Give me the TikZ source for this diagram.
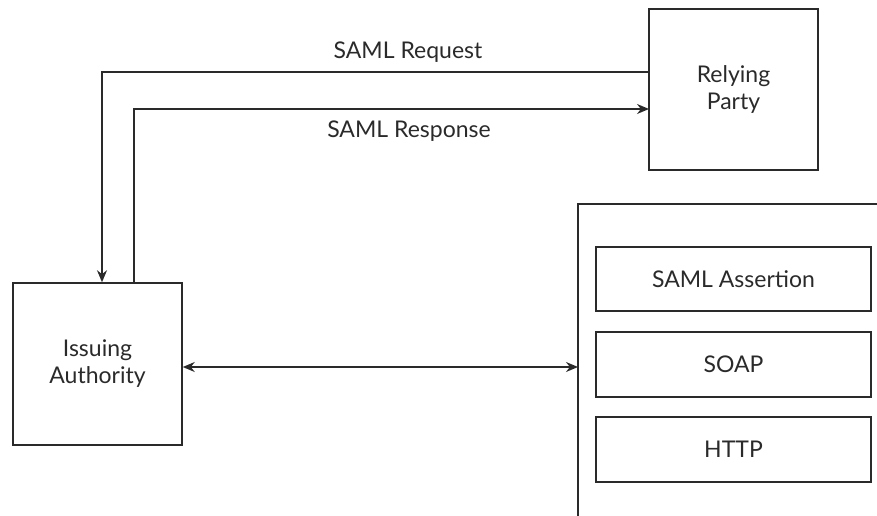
\documentclass[tikz,border=0pt]{standalone}
\usepackage{fontspec}
\setmainfont{Lato}
\usetikzlibrary{arrows.meta}
\definecolor{ln}{HTML}{2A2A2A}
\tikzset{
  box/.style={draw=ln, line width=1.5pt, rectangle, inner sep=0pt, align=center, font=\fontsize{23}{27}\selectfont, text=ln},
  lbl/.style={font=\fontsize{23}{27}\selectfont, text=ln, inner sep=0pt},
  arr/.style={draw=ln, line width=1.4pt, -{Stealth[length=12pt,width=10pt]}},
  darr/.style={draw=ln, line width=1.4pt, {Stealth[length=12pt,width=10pt]}-{Stealth[length=12pt,width=10pt]}},
  ln/.style={draw=ln, line width=1.5pt}
}
\begin{document}
\begin{tikzpicture}[x=1pt,y=-1pt]
\useasboundingbox (0,0) rectangle (877,516);
\node[box, minimum width=169pt, minimum height=161pt] (rp) at (733.5,89.5) {Relying\\Party};
\node[box, minimum width=169pt, minimum height=162pt] (ia) at (97.5,364) {Issuing\\Authority};
\coordinate (contTR) at (877,204);
\coordinate (contTL) at (578,204);
\coordinate (contBL) at (578,516);
\coordinate (contW) at (578,367);
\draw[ln] (contTR) -- (contTL) -- (contBL);
\node[box, minimum width=275pt, minimum height=64pt] (sa) at (733.5,279) {SAML Assertion};
\node[box, minimum width=275pt, minimum height=65pt] (soap) at (733.5,364.5) {SOAP};
\node[box, minimum width=275pt, minimum height=65pt] (http) at (733.5,449.5) {HTTP};
\coordinate (reqR) at (649,72);
\coordinate (resR) at (649,109);
\draw[arr] (reqR) -| ([xshift=4.5pt]ia.north);
\draw[arr] ([xshift=36.5pt]ia.north) |- (resR);
\draw[darr] (ia.east |- contW) -- (contW);
\node[lbl] (reqlbl) at (408,52) {SAML Request};
\node[lbl] (reslbl) at (409,131) {SAML Response};
\end{tikzpicture}
\end{document}
